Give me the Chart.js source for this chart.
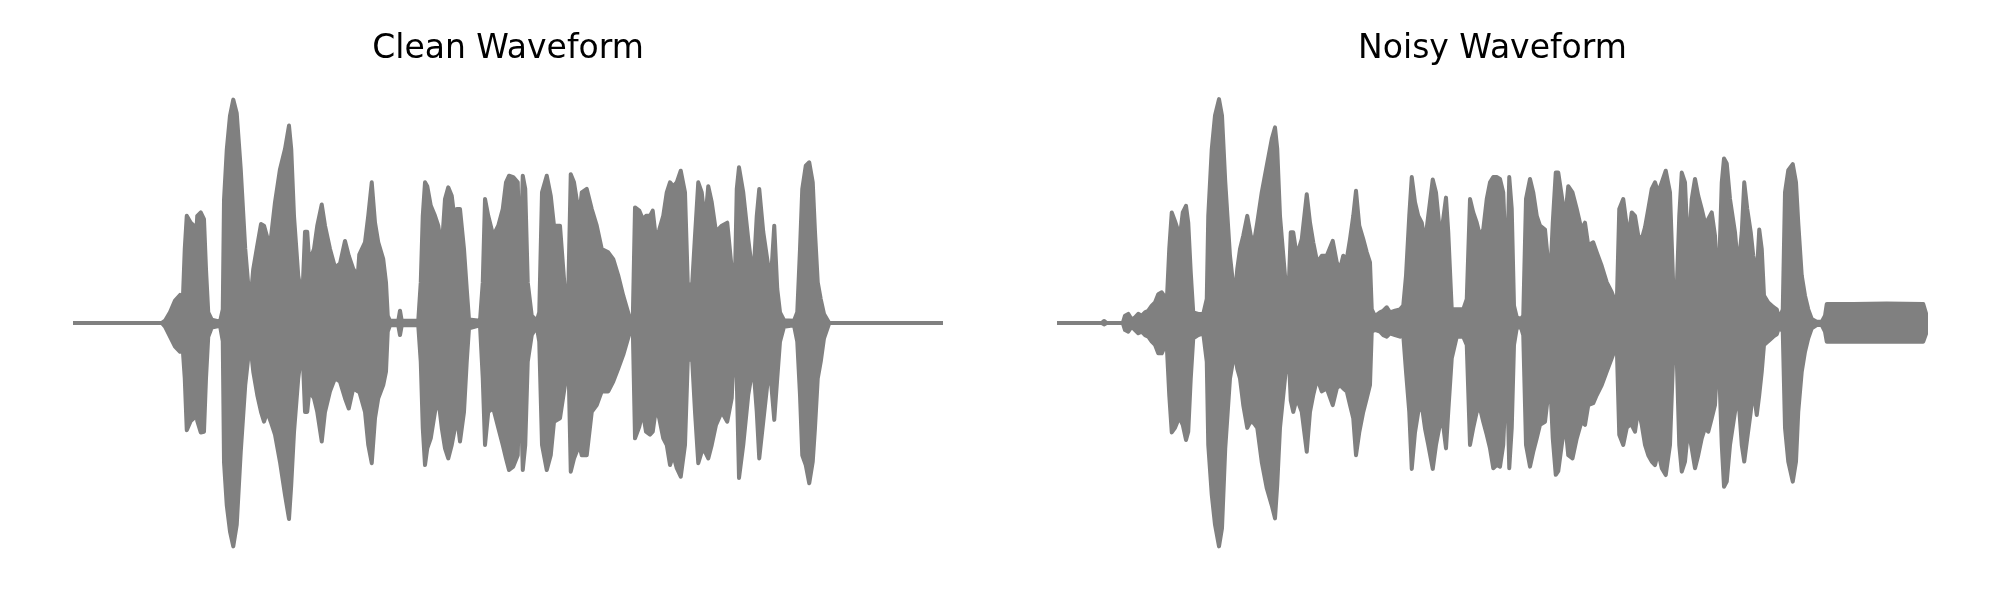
<!DOCTYPE html>
<html>
<head>
<meta charset="utf-8">
<script src="https://cdn.jsdelivr.net/npm/chart.js@4/dist/chart.umd.min.js"></script>
<style>
  body { margin: 0; background: #fff; }
  #wrap { position: relative; width: 2000px; height: 600px; }
  canvas { position: absolute; top: 0; }
</style>
</head>
<body>
<div id="wrap">
  <canvas id="clean" width="1000" height="600" style="left:0"></canvas>
  <canvas id="noisy" width="1000" height="600" style="left:1000px"></canvas>
</div>
<script>
// time in ms, envelope amplitude (upper / lower)
const cleanTime = [0,355,368,388,408,428,437,447,455,471,481,488,497,511,524,532,541,555,588,599,604,615,628,641,655,671,689,708,721,737,752,764,777,791,808,828,848,864,873,884,901,917,928,937,945,964,977,995,1008,1028,1048,1068,1088,1103,1121,1139,
  1145,1168,1181,1195,1208,1221,1241,1252,1259,1268,1301,1308,1315,1381,1391,1399,1408,1417,1431,1448,1461,1475,1488,1501,1515,1528,1535,1548,1564,1575,1584,1628,1639,1648,1661,1681,1701,1719,1732,1744,1761,1779,1788,1799,1809,1819,1835,1855,1865,1876,1895,1911,1924,1948,1968,1981,1991,2004,2025,2035,2055,2075,2095,2115,2141,2161,2181,2201,2228,2239,2248,2265,2279,2292,
  2308,2319,2332,2345,2361,2375,2388,2401,2415,2431,2448,2459,2468,2477,2488,2501,2515,2528,2541,2555,2572,2595,2617,2635,2645,2655,2664,2681,2701,2721,2735,2745,2761,2777,2791,2805,2817,2828,2844,2884,2897,2908,2917,2931,2945,2959,2968,2979,2991,3004,3025,3479];
const cleanUpper = [0,0,0.01,0.047,0.098,0.123,0.032,0.325,0.47,0.44,0.43,0.30,0.47,0.485,0.456,0.237,0.047,0.015,0.006,0.06,0.54,0.76,0.91,0.98,0.92,0.675,0.325,0.076,0.237,0.34,0.434,0.427,0.376,0.368,0.53,0.675,0.763,0.866,0.763,0.47,0.208,0.105,0.40,0.40,0.266,0.325,0.427,0.52,0.427,0.325,0.244,0.26,0.36,0.295,0.237,0.208,
  0.30,0.354,0.47,0.617,0.44,0.354,0.28,0.178,0.032,0.01,0.01,0.054,0.01,0.01,0.178,0.47,0.617,0.60,0.515,0.47,0.427,0.325,0.544,0.595,0.558,0.44,0.50,0.50,0.325,0.15,0.015,0.01,0.178,0.544,0.47,0.383,0.427,0.50,0.617,0.646,0.64,0.617,0.237,0.646,0.588,0.178,0.032,0.01,0.047,0.573,0.646,0.558,0.427,0.427,0.135,0.135,0.653,0.617,0.47,0.573,0.588,0.50,0.427,0.325,0.31,0.28,0.208,0.12,0.018,0.01,0.507,0.493,0.456,0.47,
  0.47,0.493,0.368,0.41,0.47,0.573,0.617,0.60,0.617,0.668,0.573,0.178,0.15,0.178,0.383,0.617,0.573,0.44,0.60,0.53,0.40,0.427,0.44,0.237,0.047,0.588,0.683,0.573,0.368,0.193,0.47,0.588,0.40,0.28,0.178,0.427,0.15,0.047,0.012,0.01,0.047,0.325,0.588,0.69,0.705,0.617,0.40,0.178,0.105,0.04,0,0];
const cleanLower = [0,0,-0.016,-0.06,-0.104,-0.126,-0.082,-0.243,-0.47,-0.43,-0.42,-0.32,-0.43,-0.48,-0.477,-0.243,-0.06,-0.02,-0.012,-0.08,-0.61,-0.80,-0.915,-0.98,-0.885,-0.565,-0.272,-0.082,-0.213,-0.316,-0.39,-0.433,-0.39,-0.433,-0.49,-0.61,-0.754,-0.86,-0.71,-0.48,-0.243,-0.096,-0.39,-0.39,-0.30,-0.33,-0.39,-0.52,-0.39,-0.30,-0.243,-0.257,-0.33,-0.375,-0.287,-0.30,
  -0.30,-0.39,-0.535,-0.615,-0.418,-0.33,-0.272,-0.213,-0.038,-0.01,-0.01,-0.053,-0.01,-0.01,-0.17,-0.46,-0.623,-0.55,-0.506,-0.39,-0.33,-0.46,-0.55,-0.594,-0.535,-0.46,-0.40,-0.52,-0.39,-0.17,-0.023,-0.01,-0.243,-0.535,-0.39,-0.374,-0.46,-0.535,-0.594,-0.645,-0.63,-0.58,-0.17,-0.645,-0.535,-0.17,-0.053,-0.016,-0.082,-0.535,-0.645,-0.58,-0.433,-0.418,-0.272,-0.126,-0.652,-0.594,-0.535,-0.58,-0.58,-0.39,-0.36,-0.30,-0.30,-0.257,-0.20,-0.14,-0.038,-0.016,-0.506,-0.455,-0.39,-0.477,
  -0.49,-0.477,-0.374,-0.418,-0.506,-0.535,-0.623,-0.58,-0.637,-0.674,-0.535,-0.17,-0.14,-0.17,-0.39,-0.615,-0.564,-0.564,-0.594,-0.535,-0.447,-0.39,-0.433,-0.33,-0.067,-0.243,-0.68,-0.535,-0.316,-0.184,-0.39,-0.594,-0.433,-0.272,-0.243,-0.425,-0.243,-0.082,-0.016,-0.01,-0.082,-0.316,-0.58,-0.623,-0.703,-0.608,-0.46,-0.243,-0.17,-0.067,0,0];

const noisyTime = [0,179,188,199,263,272,285,299,312,325,339,352,365,379,392,405,419,428,439,449,459,472,483,492,503,516,525,535,545,565,585,599,605,619,632,648,660,673,692,711,721,732,745,761,775,788,801,819,839,859,872,881,892,912,925,935,945,959,979,999,1012,1025,1041,1059,1079,1103,1119,1132,
  1145,1159,1172,1185,1196,1209,1225,1239,1252,1259,1272,1292,1305,1319,1332,1352,1372,1385,1396,1409,1419,1432,1445,1459,1472,1485,1503,1516,1529,1543,1556,1565,1579,1599,1625,1639,1652,1665,1679,1692,1705,1719,1732,1745,1759,1772,1785,1799,1809,1819,1828,1839,1855,1865,1876,1892,1905,1919,1932,1952,1972,1983,1995,2005,2019,2032,2045,2062,2079,2098,2112,2125,2145,2159,2179,2199,2219,2239,2249,2265,2279,2292,
  2299,2312,2325,2339,2352,2365,2379,2392,2405,2419,2435,2452,2465,2479,2489,2499,2512,2525,2539,2552,2565,2579,2592,2605,2619,2632,2645,2659,2668,2679,2692,2712,2725,2739,2749,2761,2775,2785,2799,2809,2819,2828,2845,2865,2879,2889,2903,2912,2925,2943,2956,2965,2979,2992,3005,3019,3039,3059,3072,3079,3185,3319,3465,3479,3485];
const noisyUpper = [0,0,0.009,0,0,0.032,0.04,0.015,0.025,0.04,0.032,0.047,0.054,0.076,0.09,0.126,0.135,0.12,0.09,0.325,0.485,0.447,0.41,0.383,0.485,0.514,0.44,0.222,0.047,0.04,0.04,0.105,0.47,0.763,0.91,0.982,0.91,0.62,0.295,0.105,0.237,0.325,0.383,0.47,0.383,0.354,0.44,0.573,0.69,0.807,0.858,0.763,0.47,0.208,0.105,0.398,0.398,0.295,0.368,0.565,0.44,0.354,0.266,0.295,0.295,0.36,0.266,0.237,
  0.295,0.28,0.368,0.47,0.58,0.427,0.368,0.31,0.266,0.06,0.03,0.047,0.054,0.069,0.047,0.054,0.06,0.076,0.208,0.47,0.64,0.53,0.47,0.44,0.354,0.47,0.63,0.573,0.427,0.44,0.55,0.40,0.06,0.06,0.06,0.105,0.544,0.485,0.44,0.383,0.41,0.544,0.617,0.64,0.64,0.632,0.573,0.178,0.64,0.50,0.076,0.025,0.018,0.032,0.544,0.632,0.573,0.47,0.427,0.41,0.178,0.44,0.66,0.66,0.558,0.456,0.60,0.573,0.50,0.41,0.44,0.34,0.354,0.31,0.25,0.178,0.135,0.076,0.50,0.544,0.427,0.427,
  0.485,0.47,0.383,0.368,0.42,0.50,0.588,0.617,0.573,0.617,0.668,0.573,0.163,0.15,0.47,0.66,0.617,0.295,0.544,0.632,0.558,0.50,0.44,0.456,0.485,0.383,0.12,0.617,0.722,0.70,0.544,0.398,0.237,0.398,0.617,0.50,0.398,0.295,0.208,0.41,0.325,0.12,0.09,0.07,0.06,0.018,0.06,0.573,0.67,0.697,0.617,0.44,0.208,0.12,0.06,0.018,0.006,0.006,0.032,0.083,0.083,0.086,0.083,0.032,0];
const noisyLower = [0,0,-0.006,0,0,-0.031,-0.038,-0.016,-0.031,-0.045,-0.038,-0.053,-0.06,-0.082,-0.096,-0.133,-0.133,-0.111,-0.096,-0.316,-0.48,-0.46,-0.43,-0.42,-0.447,-0.513,-0.477,-0.243,-0.067,-0.053,-0.045,-0.17,-0.535,-0.754,-0.885,-0.98,-0.90,-0.55,-0.243,-0.124,-0.20,-0.243,-0.36,-0.46,-0.43,-0.44,-0.46,-0.61,-0.725,-0.80,-0.857,-0.71,-0.46,-0.243,-0.096,-0.34,-0.39,-0.33,-0.39,-0.565,-0.39,-0.316,-0.243,-0.30,-0.287,-0.36,-0.287,-0.272,
  -0.287,-0.30,-0.36,-0.418,-0.58,-0.48,-0.39,-0.33,-0.272,-0.038,-0.03,-0.038,-0.053,-0.06,-0.045,-0.053,-0.06,-0.053,-0.213,-0.39,-0.64,-0.48,-0.39,-0.36,-0.463,-0.535,-0.64,-0.535,-0.46,-0.433,-0.55,-0.39,-0.155,-0.06,-0.06,-0.096,-0.535,-0.46,-0.39,-0.374,-0.433,-0.49,-0.55,-0.637,-0.623,-0.63,-0.535,-0.17,-0.637,-0.46,-0.096,-0.023,-0.016,-0.053,-0.535,-0.63,-0.565,-0.506,-0.447,-0.433,-0.243,-0.506,-0.666,-0.65,-0.535,-0.433,-0.58,-0.594,-0.506,-0.433,-0.447,-0.36,-0.352,-0.316,-0.272,-0.213,-0.155,-0.096,-0.49,-0.535,-0.46,-0.447,
  -0.448,-0.477,-0.376,-0.447,-0.535,-0.58,-0.608,-0.623,-0.565,-0.637,-0.667,-0.535,-0.14,-0.155,-0.535,-0.652,-0.608,-0.46,-0.55,-0.637,-0.58,-0.506,-0.46,-0.477,-0.418,-0.36,-0.082,-0.535,-0.718,-0.696,-0.535,-0.39,-0.316,-0.535,-0.608,-0.506,-0.39,-0.287,-0.404,-0.316,-0.214,-0.096,-0.08,-0.06,-0.05,-0.016,-0.038,-0.46,-0.608,-0.696,-0.608,-0.39,-0.213,-0.126,-0.067,-0.023,-0.009,-0.009,-0.038,-0.082,-0.082,-0.082,-0.082,-0.038,0];

const gray = "#808080";

function waveChart(id, title, times, upper, lower, xMax, padLeft, padRight) {
  const pts = arr => times.map((t, i) => ({ x: t, y: arr[i] }));
  const line = {
    borderColor: gray,
    backgroundColor: gray,
    borderWidth: 4,
    pointRadius: 0,
    tension: 0,
    borderJoinStyle: "round",
    borderCapStyle: "round"
  };
  new Chart(document.getElementById(id), {
    type: "line",
    data: {
      datasets: [
        Object.assign({ data: pts(upper), fill: "+1" }, line),
        Object.assign({ data: pts(lower), fill: false }, line)
      ]
    },
    options: {
      responsive: false,
      animation: false,
      layout: { padding: { left: padLeft, right: padRight, top: 0, bottom: 34 } },
      plugins: {
        legend: { display: false },
        tooltip: { enabled: false },
        title: {
          display: true,
          text: title,
          color: "#000",
          font: { family: "DejaVu Sans", size: 33, weight: "normal" },
          padding: { top: 30, bottom: 10.4 }
        }
      },
      scales: {
        x: { type: "linear", min: 0, max: xMax, display: false },
        y: { min: -1.066, max: 1.066, display: false }
      }
    }
  });
}

waveChart("clean", "Clean Waveform", cleanTime, cleanUpper, cleanLower, 3480, 73, 57);
waveChart("noisy", "Noisy Waveform", noisyTime, noisyUpper, noisyLower, 3484, 57, 72);
</script>
</body>
</html>
